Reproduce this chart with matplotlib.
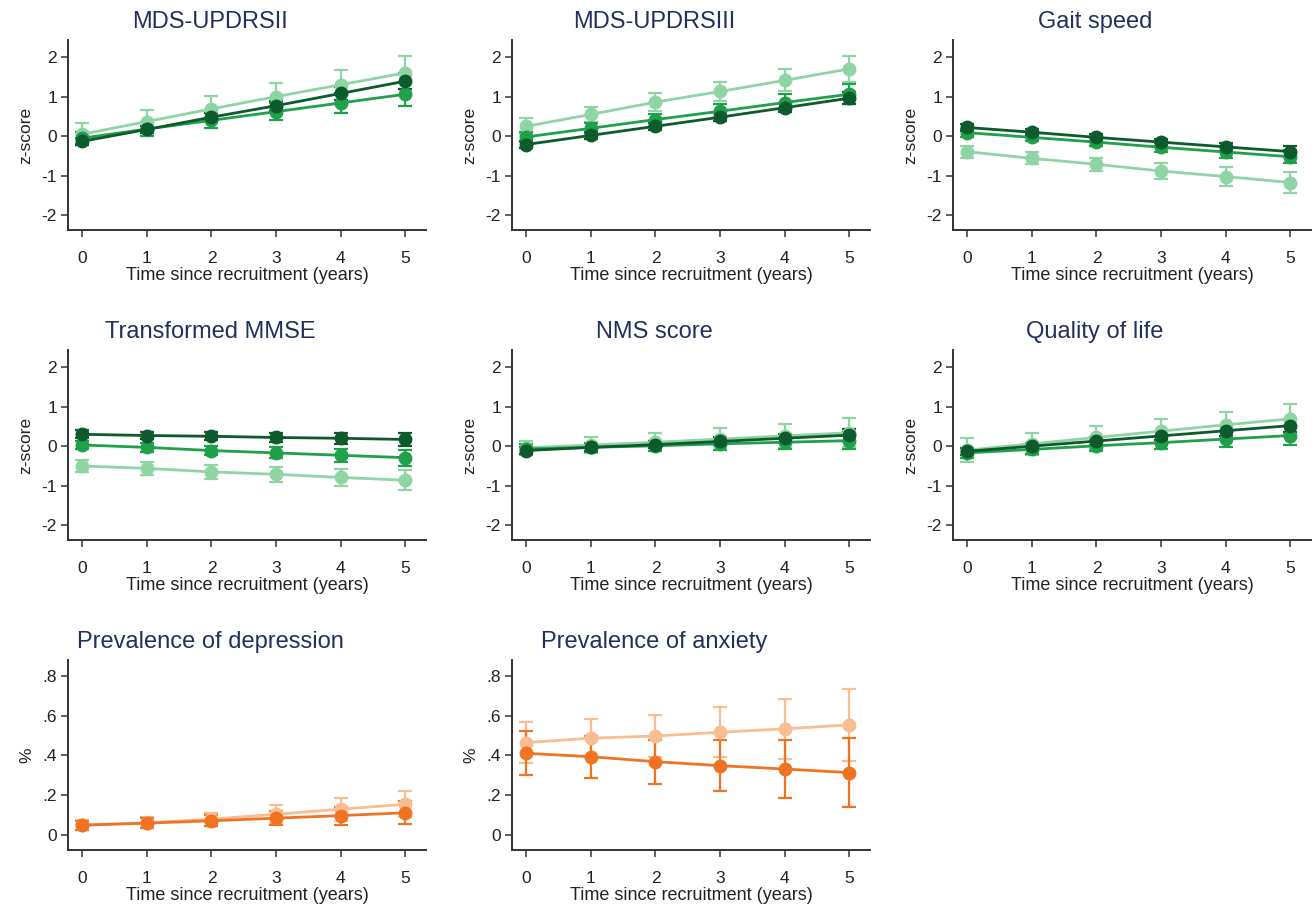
import matplotlib
matplotlib.use("Agg")
import matplotlib.pyplot as plt
import numpy as np

plt.rcParams['font.family'] = ['Liberation Sans', 'DejaVu Sans']
plt.rcParams['axes.unicode_minus'] = False

years = [0, 1, 2, 3, 4, 5]

# z-score panels: mean and half-width of the 95% CI for the three groups
# (light, mid, dark)
updrs2_light = [0.05, 0.37, 0.69, 1.00, 1.30, 1.60]
updrs2_light_ci = [0.28, 0.30, 0.32, 0.35, 0.38, 0.42]
updrs2_mid = [-0.05, 0.18, 0.40, 0.62, 0.84, 1.06]
updrs2_mid_ci = [0.15, 0.17, 0.19, 0.22, 0.25, 0.30]
updrs2_dark = [-0.13, 0.17, 0.48, 0.77, 1.08, 1.39]
updrs2_dark_ci = [0.08, 0.08, 0.10, 0.13, 0.16, 0.20]

updrs3_light = [0.25, 0.55, 0.86, 1.13, 1.41, 1.70]
updrs3_light_ci = [0.20, 0.20, 0.22, 0.25, 0.28, 0.32]
updrs3_mid = [-0.02, 0.20, 0.42, 0.63, 0.85, 1.06]
updrs3_mid_ci = [0.12, 0.13, 0.15, 0.18, 0.21, 0.25]
updrs3_dark = [-0.21, 0.02, 0.25, 0.48, 0.72, 0.96]
updrs3_dark_ci = [0.08, 0.08, 0.09, 0.10, 0.12, 0.15]

gait_light = [-0.39, -0.56, -0.71, -0.88, -1.02, -1.17]
gait_light_ci = [0.15, 0.15, 0.17, 0.20, 0.23, 0.27]
gait_mid = [0.09, -0.03, -0.15, -0.28, -0.40, -0.52]
gait_mid_ci = [0.10, 0.10, 0.11, 0.12, 0.14, 0.16]
gait_dark = [0.22, 0.10, -0.03, -0.15, -0.27, -0.39]
gait_dark_ci = [0.08, 0.08, 0.08, 0.09, 0.11, 0.13]

mmse_light = [-0.50, -0.56, -0.65, -0.71, -0.79, -0.86]
mmse_light_ci = [0.15, 0.16, 0.17, 0.19, 0.22, 0.25]
mmse_mid = [0.03, -0.03, -0.11, -0.17, -0.23, -0.29]
mmse_mid_ci = [0.10, 0.11, 0.12, 0.14, 0.17, 0.20]
mmse_dark = [0.30, 0.27, 0.25, 0.22, 0.20, 0.17]
mmse_dark_ci = [0.10, 0.10, 0.10, 0.12, 0.14, 0.17]

nms_light = [-0.04, 0.03, 0.10, 0.18, 0.26, 0.34]
nms_light_ci = [0.18, 0.20, 0.23, 0.27, 0.31, 0.36]
nms_mid = [-0.07, -0.03, 0.01, 0.06, 0.10, 0.14]
nms_mid_ci = [0.12, 0.12, 0.13, 0.15, 0.18, 0.22]
nms_dark = [-0.11, -0.03, 0.04, 0.12, 0.20, 0.28]
nms_dark_ci = [0.08, 0.08, 0.09, 0.10, 0.12, 0.15]

qol_light = [-0.10, 0.06, 0.22, 0.38, 0.54, 0.69]
qol_light_ci = [0.30, 0.28, 0.28, 0.30, 0.33, 0.37]
qol_mid = [-0.17, -0.08, 0.01, 0.09, 0.18, 0.27]
qol_mid_ci = [0.12, 0.12, 0.14, 0.16, 0.20, 0.25]
qol_dark = [-0.13, 0.00, 0.13, 0.26, 0.39, 0.52]
qol_dark_ci = [0.08, 0.08, 0.09, 0.10, 0.12, 0.15]

# prevalence panels: two groups (light, dark)
dep_light = [0.050, 0.062, 0.080, 0.105, 0.130, 0.155]
dep_light_ci = [0.025, 0.028, 0.033, 0.045, 0.058, 0.065]
dep_dark = [0.050, 0.060, 0.072, 0.085, 0.098, 0.112]
dep_dark_ci = [0.022, 0.024, 0.028, 0.035, 0.045, 0.058]

anx_light = [0.465, 0.487, 0.498, 0.517, 0.534, 0.554]
anx_light_ci = [0.105, 0.095, 0.105, 0.125, 0.150, 0.180]
anx_dark = [0.411, 0.394, 0.369, 0.349, 0.332, 0.314]
anx_dark_ci = [0.110, 0.105, 0.110, 0.128, 0.148, 0.172]

z_titles = ["MDS-UPDRSII", "MDS-UPDRSIII", "Gait speed",
            "Transformed MMSE", "NMS score", "Quality of life"]
z_series = [
    [(updrs2_light, updrs2_light_ci), (updrs2_mid, updrs2_mid_ci), (updrs2_dark, updrs2_dark_ci)],
    [(updrs3_light, updrs3_light_ci), (updrs3_mid, updrs3_mid_ci), (updrs3_dark, updrs3_dark_ci)],
    [(gait_light, gait_light_ci), (gait_mid, gait_mid_ci), (gait_dark, gait_dark_ci)],
    [(mmse_light, mmse_light_ci), (mmse_mid, mmse_mid_ci), (mmse_dark, mmse_dark_ci)],
    [(nms_light, nms_light_ci), (nms_mid, nms_mid_ci), (nms_dark, nms_dark_ci)],
    [(qol_light, qol_light_ci), (qol_mid, qol_mid_ci), (qol_dark, qol_dark_ci)],
]
p_titles = ["Prevalence of depression", "Prevalence of anxiety"]
p_series = [
    [(dep_light, dep_light_ci), (dep_dark, dep_dark_ci)],
    [(anx_light, anx_light_ci), (anx_dark, anx_dark_ci)],
]

greens = ["#8fd5a4", "#20a04b", "#0d5a2c"]
oranges = ["#f9bd91", "#ee7424"]
title_color = "#22305c"
axis_color = "#333333"

W, H = 1314, 908
fig = plt.figure(figsize=(W / 100, H / 100), dpi=100)

col_left = [68, 512, 953]
row_top = [40, 350, 660]
ax_w, ax_h = 358, 190


def make_axes(row, col):
    l = col_left[col]
    t = row_top[row]
    return fig.add_axes([l / W, 1 - (t + ax_h) / H, ax_w / W, ax_h / H])


def style(ax, title, ylabel):
    ax.set_xlim(-0.22, 5.32)
    ax.set_xticks(years)
    for s in ["top", "right"]:
        ax.spines[s].set_visible(False)
    for s in ["left", "bottom"]:
        ax.spines[s].set_color(axis_color)
        ax.spines[s].set_linewidth(1.4)
    ax.tick_params(axis="both", colors=axis_color, labelcolor="#222222",
                   labelsize=12.5, length=5, width=1.1)
    ax.tick_params(axis="x", pad=10)
    ax.tick_params(axis="y", pad=3)
    ax.set_xlabel("Time since recruitment (years)", fontsize=13,
                  color="#222222", labelpad=1)
    ax.set_ylabel(ylabel, fontsize=12.5, color="#222222", labelpad=6)
    ax.text(0.397, 1.095, title, transform=ax.transAxes, ha="center",
            va="center", fontsize=17, color=title_color)


def draw(ax, series, colors):
    for (mean, ci), c in zip(series, colors):
        ax.errorbar(years, mean, yerr=ci, color=c, lw=2, marker="o",
                    markersize=9, capsize=5, elinewidth=1.6, capthick=1.6)


for i, (title, series) in enumerate(zip(z_titles, z_series)):
    ax = make_axes(i // 3, i % 3)
    draw(ax, series, greens)
    ax.set_ylim(-2.37, 2.43)
    ax.set_yticks([-2, -1, 0, 1, 2])
    style(ax, title, "z-score")

for j, (title, series) in enumerate(zip(p_titles, p_series)):
    ax = make_axes(2, j)
    draw(ax, series, oranges)
    ax.set_ylim(-0.075, 0.88)
    ax.set_yticks([0, 0.2, 0.4, 0.6, 0.8])
    ax.set_yticklabels(["0", ".2", ".4", ".6", ".8"])
    style(ax, title, "%")

fig.savefig("out.png", dpi=100)
